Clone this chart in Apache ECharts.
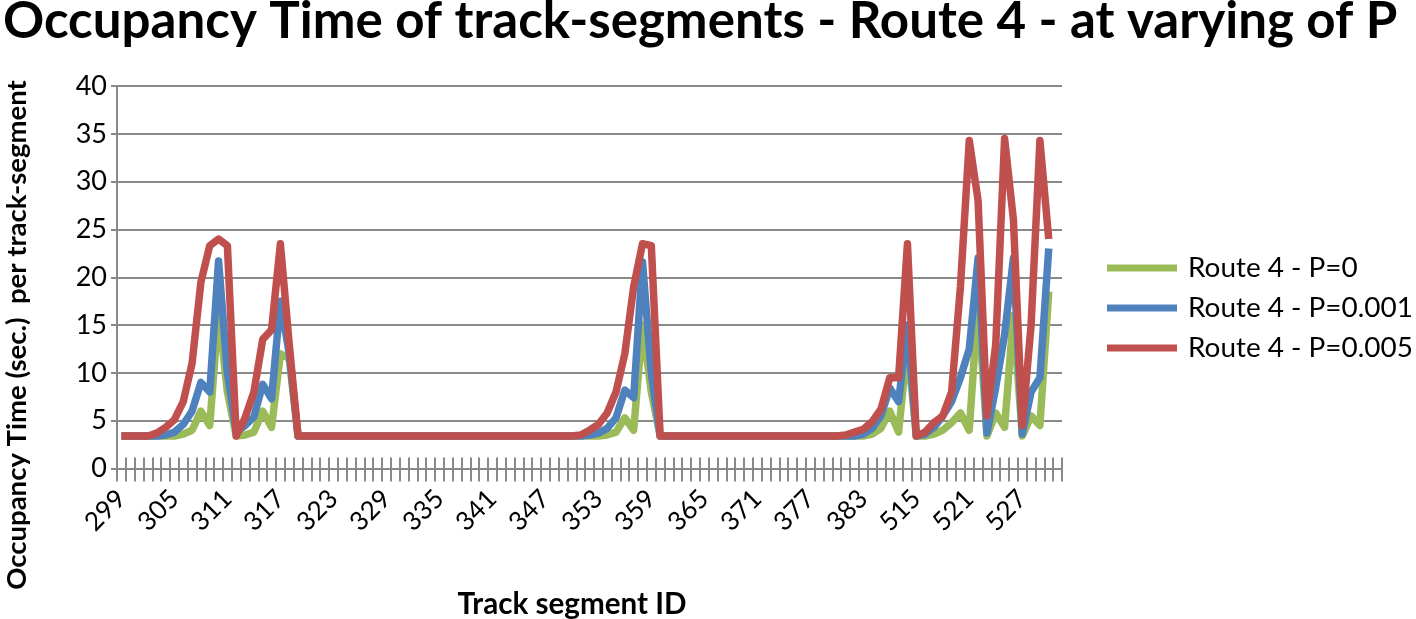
<!DOCTYPE html>
<html>
<head>
<meta charset="utf-8">
<title>Occupancy Time - Route 4</title>
<script src="https://cdn.jsdelivr.net/npm/echarts@6/dist/echarts.min.js"></script>
<style>
  html, body { margin: 0; padding: 0; background: #fff; }
  #chart { width: 1416px; height: 619px; }
</style>
</head>
<body>
<div id="chart"></div>
<script>
// track segment ids (x categories)
var segments = [
  '299','300','301','302','303','304','305','306','307','308',
  '309','310','311','312','313','314','315','316','317','318',
  '319','320','321','322','323','324','325','326','327','328',
  '329','330','331','332','333','334','335','336','337','338',
  '339','340','341','342','343','344','345','346','347','348',
  '349','350','351','352','353','354','355','356','357','358',
  '359','360','361','362','363','364','365','366','367','368',
  '369','370','371','372','373','374','375','376','377','378',
  '379','380','381','382','383','384','385','386','387','388',
  '515','516','517','518','519','520','521','522','523','524',
  '525','526','527','528','529','530','531'
];

// Route 4 - P=0
var p0 = [
  3.4, 3.4, 3.4, 3.4, 3.4, 3.4, 3.4, 3.6, 4.0, 6.0,
  4.5, 16.5, 8, 3.4, 3.5, 3.8, 6.0, 4.3, 12, 11.5,
  3.4, 3.4, 3.4, 3.4, 3.4, 3.4, 3.4, 3.4, 3.4, 3.4,
  3.4, 3.4, 3.4, 3.4, 3.4, 3.4, 3.4, 3.4, 3.4, 3.4,
  3.4, 3.4, 3.4, 3.4, 3.4, 3.4, 3.4, 3.4, 3.4, 3.4,
  3.4, 3.4, 3.4, 3.4, 3.4, 3.5, 3.8, 5.3, 4.0, 15,
  8, 3.4, 3.4, 3.4, 3.4, 3.4, 3.4, 3.4, 3.4, 3.4,
  3.4, 3.4, 3.4, 3.4, 3.4, 3.4, 3.4, 3.4, 3.4, 3.4,
  3.4, 3.4, 3.4, 3.4, 3.4, 3.6, 4.2, 6.0, 3.8, 13,
  3.4, 3.4, 3.6, 4.0, 4.8, 5.8, 4.0, 17.5, 3.4, 5.8,
  4.3, 16, 3.4, 5.5, 4.5, 18.5, null
];

// Route 4 - P=0.001
var p001 = [
  3.4, 3.4, 3.4, 3.4, 3.4, 3.5, 3.8, 4.6, 6.0, 9.0,
  8.0, 21.7, 10, 3.8, 4.5, 5.4, 8.8, 7.3, 17.5, 12,
  3.4, 3.4, 3.4, 3.4, 3.4, 3.4, 3.4, 3.4, 3.4, 3.4,
  3.4, 3.4, 3.4, 3.4, 3.4, 3.4, 3.4, 3.4, 3.4, 3.4,
  3.4, 3.4, 3.4, 3.4, 3.4, 3.4, 3.4, 3.4, 3.4, 3.4,
  3.4, 3.4, 3.4, 3.5, 3.7, 4.2, 5.3, 8.2, 7.4, 21.6,
  10, 3.4, 3.4, 3.4, 3.4, 3.4, 3.4, 3.4, 3.4, 3.4,
  3.4, 3.4, 3.4, 3.4, 3.4, 3.4, 3.4, 3.4, 3.4, 3.4,
  3.4, 3.4, 3.4, 3.4, 3.6, 4.2, 5.5, 8.4, 7.0, 15,
  3.4, 3.6, 4.3, 5.5, 7, 9.5, 12.5, 22, 3.7, 8.5,
  14, 22, 3.6, 8, 9.5, 23, null
];

// Route 4 - P=0.005
var p005 = [
  3.4, 3.4, 3.4, 3.4, 3.7, 4.3, 5.1, 7.0, 11, 19.5,
  23.3, 24, 23.3, 3.4, 5.3, 8, 13.5, 14.5, 23.5, 13,
  3.4, 3.4, 3.4, 3.4, 3.4, 3.4, 3.4, 3.4, 3.4, 3.4,
  3.4, 3.4, 3.4, 3.4, 3.4, 3.4, 3.4, 3.4, 3.4, 3.4,
  3.4, 3.4, 3.4, 3.4, 3.4, 3.4, 3.4, 3.4, 3.4, 3.4,
  3.4, 3.4, 3.5, 4.0, 4.6, 5.8, 8, 12, 19, 23.5,
  23.3, 3.4, 3.4, 3.4, 3.4, 3.4, 3.4, 3.4, 3.4, 3.4,
  3.4, 3.4, 3.4, 3.4, 3.4, 3.4, 3.4, 3.4, 3.4, 3.4,
  3.4, 3.4, 3.5, 3.8, 4.1, 4.9, 6.2, 9.5, 9.5, 23.5,
  3.4, 3.8, 4.8, 5.5, 8, 19, 34.3, 28, 5.5, 13,
  34.5, 26, 4.5, 15, 34.3, 24, null
];

var seriesNames = ['Route 4 - P=0', 'Route 4 - P=0.001', 'Route 4 - P=0.005'];
var seriesColors = ['#9bbb59', '#4f81bd', '#c0504d'];

var titleText = 'Occupancy Time of track-segments - Route 4 - at varying of P';
var yName = 'Occupancy Time (sec.)  per track-segment';
var xName = 'Track segment ID';

var FONT = 'Lato';
var GRIDC = '#898989';

// font size that makes a string a given pixel width
function fitSize(text, weight, width) {
  var ctx = document.createElement('canvas').getContext('2d');
  ctx.font = weight + ' 100px ' + FONT;
  return 100 * width / ctx.measureText(text).width;
}

var titleSize = fitSize(titleText, 'bold', 1395);
var yNameSize = fitSize(yName, 'bold', 510);
var xNameSize = fitSize(xName, 'bold', 229);
var legendSize = fitSize('Route 4 - P=0.001', 'normal', 225);

var chart = echarts.init(document.getElementById('chart'));

var lineSeries = [p0, p001, p005].map(function (d, i) {
  return {
    name: seriesNames[i],
    type: 'line',
    data: d,
    symbol: 'none',
    color: seriesColors[i],
    lineStyle: { width: 7.5, color: seriesColors[i], join: 'round' },
    animation: false
  };
});

chart.setOption({
  animation: false,
  title: {
    text: titleText,
    left: 3,
    top: -4,
    padding: 0,
    textStyle: { fontFamily: FONT, fontWeight: 'bold', fontSize: titleSize, color: '#000' }
  },
  legend: {
    orient: 'vertical',
    left: 1107,
    top: 253,
    padding: 0,
    itemWidth: 70,
    itemHeight: 7,
    itemGap: 10,
    icon: 'rect',
    data: seriesNames,
    textStyle: { fontFamily: FONT, fontSize: legendSize, color: '#000', lineHeight: 30, padding: [0, 0, 0, 6] }
  },
  grid: { left: 117, right: 354, top: 86, bottom: 150.5 },
  xAxis: [{
    type: 'category',
    data: segments,
    boundaryGap: true,
    axisLine: { show: true, lineStyle: { color: GRIDC, width: 2 } },
    axisTick: { show: true, interval: 0, length: 13, lineStyle: { color: GRIDC, width: 2 } },
    axisLabel: { interval: 5, rotate: 45, margin: 26, fontFamily: FONT, fontSize: 26, color: '#000' }
  }, {
    // upper half of the crossing tick marks
    type: 'category',
    data: segments,
    position: 'bottom',
    boundaryGap: true,
    axisLine: { show: false },
    axisTick: { show: true, inside: true, interval: 0, length: 11, lineStyle: { color: GRIDC, width: 2 } },
    axisLabel: { show: false }
  }],
  yAxis: {
    type: 'value',
    min: 0,
    max: 40,
    interval: 5,
    axisLine: { show: true, lineStyle: { color: GRIDC, width: 2 } },
    axisTick: { show: true, length: 6, lineStyle: { color: GRIDC, width: 2 } },
    axisLabel: { margin: 10, fontFamily: FONT, fontSize: 27, color: '#000' },
    splitLine: { lineStyle: { color: GRIDC, width: 2 } }
  },
  graphic: [{
    type: 'text',
    x: 17,
    y: 335,
    rotation: Math.PI / 2,
    style: { text: yName, fontFamily: FONT, fontWeight: 'bold', fontSize: yNameSize, fill: '#000', align: 'center', verticalAlign: 'middle' }
  }, {
    type: 'text',
    x: 572,
    y: 604,
    style: { text: xName, fontFamily: FONT, fontWeight: 'bold', fontSize: xNameSize, fill: '#000', align: 'center', verticalAlign: 'middle' }
  }],
  series: lineSeries
});
</script>
</body>
</html>
